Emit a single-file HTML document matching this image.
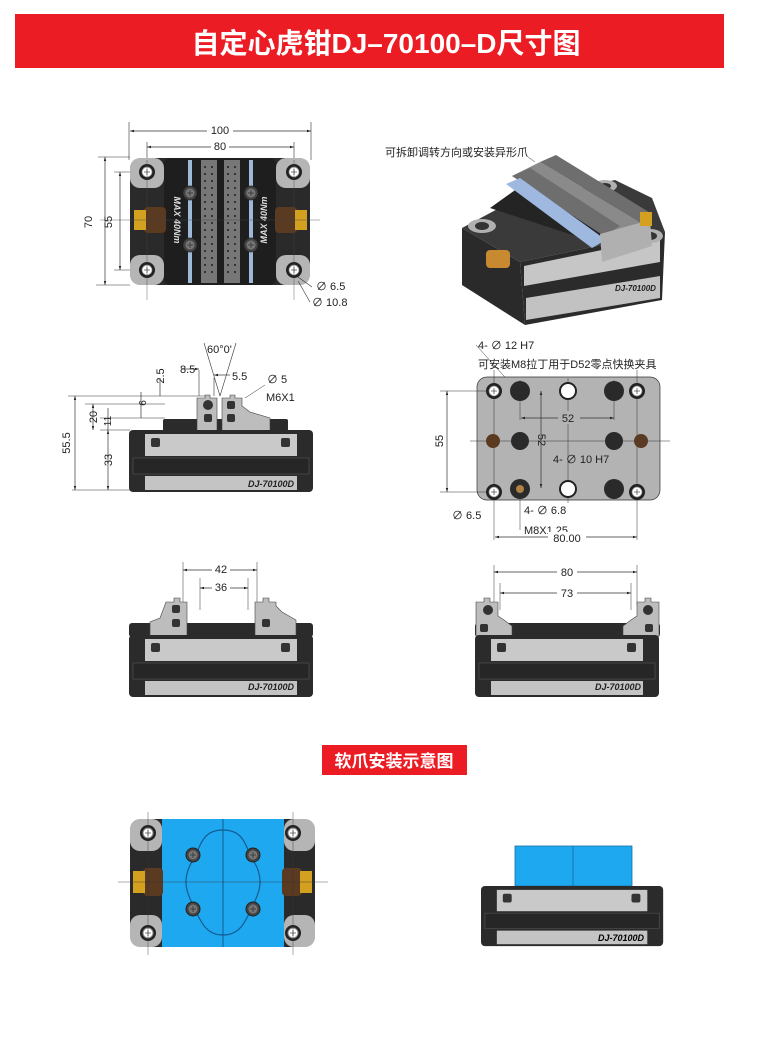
<!DOCTYPE html>
<html><head><meta charset="utf-8"><style>
html,body{margin:0;padding:0;background:#fff;}
svg{display:block}
text{font-family:"Liberation Sans","Noto Sans CJK SC",sans-serif;}
</style></head><body>
<svg width="758" height="1058" viewBox="0 0 758 1058" xmlns="http://www.w3.org/2000/svg">
<defs>
<marker id="a" viewBox="0 0 10 10" refX="10" refY="5" markerWidth="6" markerHeight="6" orient="auto-start-reverse"><path d="M0,2 L10,5 L0,8z" fill="#222"/></marker>
<g id="base">
<rect x="0" y="0" width="184" height="62" rx="4" fill="#2b2b2b"/>
<rect x="16" y="4" width="152" height="22" fill="#c9c9c9"/>
<rect x="4" y="28" width="176" height="16" fill="#262626" stroke="#555" stroke-width="0.6"/>
<rect x="16" y="46" width="152" height="14" fill="#c4c4c4"/>
<rect x="22" y="8" width="9" height="9" rx="2" fill="#333"/>
<rect x="152" y="8" width="9" height="9" rx="2" fill="#333"/>
</g>
<g id="hole"><circle r="8" fill="#222"/><circle r="5" fill="#fff" stroke="#888"/><path d="M-3,0h6M0,-3v6" stroke="#555" stroke-width="0.8"/></g>
<g id="bolt"><circle r="7" fill="#444" stroke="#222"/><circle r="4.5" fill="#777"/><path d="M-3,0h6M0,-3v6" stroke="#333" stroke-width="0.8"/></g>
</defs>

<!-- banner -->
<rect x="15" y="14" width="709" height="54" fill="#ec1c24"/>
<text x="386" y="53" font-size="28" font-weight="bold" fill="#fff" text-anchor="middle" font-family="Liberation Sans,Noto Sans CJK SC,sans-serif">自定心虎钳DJ–70100–D尺寸图</text>

<g font-size="11" fill="#222" stroke-width="0.7">
<!-- TOP VIEW -->
<g stroke="#333" fill="none" stroke-width="0.6">
<path d="M129,122V160M311,122V160M147,142V165M294,142V165"/>
<path d="M98,157H130M96,285H130M114,172H150M114,270H150"/>
</g>
<line x1="130" y1="131" x2="311" y2="131" stroke="#333" stroke-width="0.7" marker-start="url(#a)" marker-end="url(#a)"/>
<line x1="147" y1="147" x2="294" y2="147" stroke="#333" stroke-width="0.7" marker-start="url(#a)" marker-end="url(#a)"/>
<line x1="105" y1="157" x2="105" y2="285" stroke="#333" stroke-width="0.7" marker-start="url(#a)" marker-end="url(#a)"/>
<line x1="120" y1="172" x2="120" y2="270" stroke="#333" stroke-width="0.7" marker-start="url(#a)" marker-end="url(#a)"/>
<rect x="207" y="124" width="26" height="12" fill="#fff"/><text x="220" y="134" text-anchor="middle">100</text>
<rect x="211" y="140" width="18" height="12" fill="#fff"/><text x="220" y="150" text-anchor="middle">80</text>
<text x="92" y="222" text-anchor="middle" transform="rotate(-90 92 222)">70</text>
<text x="112" y="222" text-anchor="middle" transform="rotate(-90 112 222)">55</text>

<rect x="130" y="158" width="180" height="127" rx="12" fill="#2a2a2a"/>
<rect x="130" y="158" width="34" height="30" rx="10" fill="#b5b5b5"/>
<rect x="276" y="158" width="34" height="30" rx="10" fill="#b5b5b5"/>
<rect x="130" y="255" width="34" height="30" rx="10" fill="#b5b5b5"/>
<rect x="276" y="255" width="34" height="30" rx="10" fill="#b5b5b5"/>
<rect x="164" y="158" width="112" height="127" rx="6" fill="#1e1e1e"/>
<rect x="188" y="160" width="4" height="123" fill="#9fb8d8"/><rect x="249" y="160" width="4" height="123" fill="#9fb8d8"/>
<rect x="201" y="160" width="16" height="123" fill="#777"/><rect x="224" y="160" width="16" height="123" fill="#777"/>
<path d="M205,166v112M212,166v112M228,166v112M235,166v112" stroke="#333" stroke-width="2" stroke-dasharray="2 5"/>
<use href="#bolt" x="190" y="193"/><use href="#bolt" x="251" y="193"/><use href="#bolt" x="190" y="245"/><use href="#bolt" x="251" y="245"/>
<text x="174" y="220" font-size="9" font-weight="bold" font-style="italic" fill="#ddd" transform="rotate(90 174 220)" text-anchor="middle">MAX 40Nm</text>
<text x="267" y="220" font-size="9" font-weight="bold" font-style="italic" fill="#ddd" transform="rotate(-90 267 220)" text-anchor="middle">MAX 40Nm</text>
<rect x="144" y="207" width="22" height="26" rx="4" fill="#5a3a20"/><rect x="134" y="210" width="12" height="20" fill="#d4a020"/>
<rect x="275" y="207" width="22" height="26" rx="4" fill="#5a3a20"/><rect x="295" y="210" width="12" height="20" fill="#d4a020"/>
<use href="#hole" x="147" y="172"/><use href="#hole" x="294" y="172"/><use href="#hole" x="147" y="270"/><use href="#hole" x="294" y="270"/>
<path d="M100,220H320M147,160V300M294,160V300" stroke="#444" stroke-width="0.4" fill="none"/>
<path d="M298,277L312,287M298,281L310,302" stroke="#333" stroke-width="0.6" fill="none"/>
<text x="316" y="290">∅  6.5</text><text x="312" y="306">∅  10.8</text>

<!-- ISO VIEW -->
<text x="385" y="156">可拆卸调转方向或安装异形爪</text>
<line x1="528" y1="157" x2="535" y2="162" stroke="#333" stroke-width="0.5"/>
<!-- left face -->
<polygon points="462,228 520,262 525,325 462,285" fill="#2a2a2a"/>
<!-- top of base -->
<polygon points="462,228 505,205 615,180 652,198 665,232 520,262" fill="#3a3a3a"/>
<!-- front face -->
<polygon points="520,262 665,232 662,300 525,325" fill="#2b2b2b"/>
<polygon points="524,266 660,238 660,262 524,286" fill="#c6c6c6"/>
<polygon points="526,298 660,276 660,298 526,320" fill="#c2c2c2"/>
<!-- corner pads -->
<ellipse cx="482" cy="226" rx="14" ry="7" fill="#b0b0b0"/><ellipse cx="482" cy="226" rx="7" ry="4" fill="#333"/>
<ellipse cx="650" cy="236" rx="13" ry="7" fill="#b0b0b0"/><ellipse cx="650" cy="236" rx="7" ry="4" fill="#333"/>
<ellipse cx="605" cy="186" rx="12" ry="6" fill="#b0b0b0"/><ellipse cx="605" cy="186" rx="6" ry="3" fill="#333"/>
<!-- slide body -->
<polygon points="490,208 518,188 640,222 612,248" fill="#242424"/>
<!-- jaws -->
<polygon points="512,176 540,162 650,228 622,244" fill="#8a8a8a"/>
<polygon points="512,176 530,168 620,226 604,236" fill="#6e6e6e"/>
<polygon points="540,162 556,155 652,214 650,228" fill="#6e6e6e"/>
<polygon points="506,184 520,178 606,240 592,248" fill="#9fb8e0"/>
<polygon points="600,234 650,220 652,246 602,262" fill="#b0b0b0"/>
<rect x="486" y="250" width="24" height="18" rx="4" fill="#c88a30"/><rect x="640" y="212" width="12" height="14" fill="#d4a020"/>
<text x="615" y="291" font-size="8" font-weight="bold" font-style="italic" fill="#222">DJ-70100D</text>

<!-- SIDE VIEW -->
<g stroke="#333" fill="none" stroke-width="0.6">
<path d="M68,396H205M85,404H165M100,418H165M100,430H130M72,490H130"/>
<path d="M199,370V396M214,378V396M204,343L220,396M236,343L220,396"/>
</g>
<line x1="75" y1="396" x2="75" y2="490" stroke="#333" stroke-width="0.7" marker-start="url(#a)" marker-end="url(#a)"/>
<line x1="93" y1="404" x2="93" y2="430" stroke="#333" stroke-width="0.7" marker-start="url(#a)" marker-end="url(#a)"/>
<line x1="108" y1="430" x2="108" y2="490" stroke="#333" stroke-width="0.7" marker-start="url(#a)" marker-end="url(#a)"/>
<line x1="108" y1="408" x2="108" y2="430" stroke="#333" stroke-width="0.7"/>
<line x1="141" y1="392" x2="141" y2="418" stroke="#333" stroke-width="0.7"/>
<line x1="160" y1="378" x2="160" y2="396" stroke="#333" stroke-width="0.7"/>
<line x1="182" y1="369" x2="199" y2="369" stroke="#333" stroke-width="0.7" marker-end="url(#a)"/>
<line x1="230" y1="375" x2="214" y2="375" stroke="#333" stroke-width="0.7" marker-end="url(#a)"/>
<text x="70" y="443" text-anchor="middle" transform="rotate(-90 70 443)">55.5</text>
<text x="97" y="417" text-anchor="middle" transform="rotate(-90 97 417)">20</text>
<text x="111" y="421" text-anchor="middle" font-size="10" transform="rotate(-90 111 421)">11</text>
<text x="112" y="460" text-anchor="middle" transform="rotate(-90 112 460)">33</text>
<text x="146" y="403" text-anchor="middle" font-size="10" transform="rotate(-90 146 403)">6</text>
<text x="164" y="376" text-anchor="middle" transform="rotate(-90 164 376)">2.5</text>
<text x="180" y="373">8.5</text><text x="232" y="380">5.5</text>
<text x="207" y="353">60°0'</text>
<text x="267" y="383">∅  5</text><text x="266" y="401">M6X1</text>
<path d="M265,385L245,398" stroke="#333" stroke-width="0.5"/>
<rect x="163" y="419" width="125" height="12" rx="2" fill="#2b2b2b"/>
<path d="M197,398h8v-3h5v3h7v35h-20z" fill="#bdbdbd" stroke="#444" stroke-width="0.6"/>
<path d="M222,398h8v-3h5v3h7v8l8,6l20,6v15h-48z" fill="#bdbdbd" stroke="#444" stroke-width="0.6"/>
<circle cx="208" cy="405" r="5" fill="#333"/><rect x="204" y="414" width="8" height="8" rx="2" fill="#333"/>
<rect x="227" y="401" width="8" height="8" rx="2" fill="#333"/><rect x="227" y="414" width="8" height="8" rx="2" fill="#333"/>
<use href="#base" x="129" y="430"/>
<text x="294" y="487" font-size="9" font-weight="bold" font-style="italic" text-anchor="end" fill="#222">DJ-70100D</text>

<!-- BOTTOM VIEW -->
<text x="478" y="349">4-  ∅  12  H7</text>
<text x="478" y="368">可安装M8拉丁用于D52零点快换夹具</text>
<path d="M476,345L512,385" stroke="#333" stroke-width="0.5"/>
<rect x="477" y="377" width="183" height="123" rx="10" fill="#b3b3b3" stroke="#333"/>
<g stroke="#333" stroke-width="0.5" fill="none">
<path d="M440,391H495M440,492H495M470,441H670M494,370V540M637,370V540M520,380V420M614,380V420M520,480V530M568,378V503"/>
</g>
<line x1="447" y1="391" x2="447" y2="492" stroke="#333" stroke-width="0.7" marker-start="url(#a)" marker-end="url(#a)"/>
<line x1="541" y1="391" x2="541" y2="488" stroke="#333" stroke-width="0.7" marker-start="url(#a)" marker-end="url(#a)"/>
<line x1="521" y1="418" x2="614" y2="418" stroke="#333" stroke-width="0.7" marker-start="url(#a)" marker-end="url(#a)"/>
<line x1="495" y1="537" x2="637" y2="537" stroke="#333" stroke-width="0.7" marker-start="url(#a)" marker-end="url(#a)"/>
<text x="443" y="441" text-anchor="middle" transform="rotate(-90 443 441)">55</text>
<rect x="558" y="411" width="22" height="13" fill="#b3b3b3"/><text x="568" y="422" text-anchor="middle">52</text>
<text x="538" y="440" text-anchor="middle" transform="rotate(90 538 440)">52</text>
<text x="553" y="463">4-  ∅  10  H7</text>
<use href="#hole" x="494" y="391"/><use href="#hole" x="637" y="391"/><use href="#hole" x="494" y="492"/><use href="#hole" x="637" y="492"/>
<circle cx="520" cy="391" r="10" fill="#2a2a2a"/><circle cx="614" cy="391" r="10" fill="#2a2a2a"/><circle cx="614" cy="489" r="10" fill="#2a2a2a"/><circle cx="520" cy="489" r="10" fill="#2a2a2a"/>
<circle cx="520" cy="489" r="4" fill="#b08040"/>
<circle cx="520" cy="441" r="9" fill="#2a2a2a"/><circle cx="614" cy="441" r="9" fill="#2a2a2a"/>
<circle cx="568" cy="391" r="8" fill="#fff" stroke="#222" stroke-width="2"/><circle cx="568" cy="489" r="8" fill="#fff" stroke="#222" stroke-width="2"/>
<circle cx="493" cy="441" r="7" fill="#5a3a20"/><circle cx="641" cy="441" r="7" fill="#5a3a20"/>
<text x="452" y="519">∅  6.5</text><text x="524" y="514">4-  ∅  6.8</text>
<text x="524" y="534">M8X1.25</text>
<rect x="548" y="532" width="38" height="12" fill="#fff"/><text x="567" y="542" text-anchor="middle">80.00</text>

<!-- ROW 3 LEFT -->
<g stroke="#333" stroke-width="0.5" fill="none"><path d="M183,562V605M257,562V605M200,578V610M248,578V610"/></g>
<line x1="183" y1="570" x2="257" y2="570" stroke="#333" stroke-width="0.7" marker-start="url(#a)" marker-end="url(#a)"/>
<line x1="200" y1="588" x2="248" y2="588" stroke="#333" stroke-width="0.7" marker-start="url(#a)" marker-end="url(#a)"/>
<rect x="212" y="563" width="18" height="12" fill="#fff"/><text x="221" y="573" text-anchor="middle">42</text>
<rect x="212" y="581" width="18" height="12" fill="#fff"/><text x="221" y="591" text-anchor="middle">36</text>
<rect x="129" y="623" width="184" height="14" rx="3" fill="#2b2b2b"/>
<path d="M166,602h8v-4h6v4h7v34h-37v-14l10,-4z" fill="#bdbdbd" stroke="#444" stroke-width="0.6"/>
<path d="M255,602h8v-4h6v4h7v4l6,6l14,8v16h-41z" fill="#bdbdbd" stroke="#444" stroke-width="0.6"/>
<rect x="172" y="605" width="8" height="8" rx="2" fill="#333"/><rect x="172" y="619" width="8" height="8" rx="2" fill="#333"/><rect x="262" y="619" width="8" height="8" rx="2" fill="#333"/>
<use href="#base" x="129" y="635"/>
<text x="294" y="690" font-size="9" font-weight="bold" font-style="italic" text-anchor="end">DJ-70100D</text>

<!-- ROW 3 RIGHT -->
<g stroke="#333" stroke-width="0.5" fill="none"><path d="M494,565V605M637,565V605M500,583V610M631,583V610"/></g>
<line x1="494" y1="572" x2="637" y2="572" stroke="#333" stroke-width="0.7" marker-start="url(#a)" marker-end="url(#a)"/>
<line x1="500" y1="593" x2="631" y2="593" stroke="#333" stroke-width="0.7" marker-start="url(#a)" marker-end="url(#a)"/>
<rect x="557" y="565" width="20" height="12" fill="#fff"/><text x="567" y="576" text-anchor="middle">80</text>
<rect x="557" y="587" width="20" height="12" fill="#fff"/><text x="567" y="597" text-anchor="middle">73</text>
<rect x="475" y="623" width="185" height="14" rx="3" fill="#2b2b2b"/>
<path d="M476,602h8v-4h6v4h8v14l6,4l8,6v10h-36z" fill="#bdbdbd" stroke="#444" stroke-width="0.6"/>
<path d="M659,602h-8v-4h-6v4h-8v14l-6,4l-8,6v10h36z" fill="#bdbdbd" stroke="#444" stroke-width="0.6"/>
<circle cx="488" cy="610" r="5" fill="#333"/><circle cx="648" cy="610" r="5" fill="#333"/>
<rect x="480" y="624" width="8" height="8" rx="2" fill="#333"/><rect x="645" y="624" width="8" height="8" rx="2" fill="#333"/>
<use href="#base" x="475" y="635"/>
<text x="641" y="690" font-size="9" font-weight="bold" font-style="italic" text-anchor="end">DJ-70100D</text>
</g>

<!-- red button -->
<rect x="322" y="745" width="145" height="30" fill="#ec1c24"/>
<text x="394" y="767" font-size="17" font-weight="bold" fill="#fff" text-anchor="middle">软爪安装示意图</text>

<!-- BOTTOM LEFT -->
<rect x="130" y="819" width="185" height="128" rx="12" fill="#2a2a2a"/>
<rect x="130" y="819" width="32" height="32" rx="10" fill="#b5b5b5"/><rect x="284" y="819" width="31" height="32" rx="10" fill="#b5b5b5"/>
<rect x="130" y="915" width="32" height="32" rx="10" fill="#b5b5b5"/><rect x="284" y="915" width="31" height="32" rx="10" fill="#b5b5b5"/>
<rect x="162" y="819" width="122" height="128" fill="#1ea8ef"/>
<line x1="223" y1="819" x2="223" y2="947" stroke="#155a90"/>
<path d="M223,830C200,830 200,850 193,860C180,880 188,895 193,905C200,920 205,935 223,935C241,935 246,920 253,905C258,895 266,880 253,860C246,850 246,830 223,830z" fill="none" stroke="#155a90" stroke-width="1.2"/>
<use href="#bolt" x="193" y="855"/><use href="#bolt" x="253" y="855"/><use href="#bolt" x="193" y="909"/><use href="#bolt" x="253" y="909"/>
<rect x="143" y="868" width="20" height="28" rx="4" fill="#5a3a20"/><rect x="133" y="871" width="12" height="22" fill="#d4a020"/>
<rect x="282" y="868" width="20" height="28" rx="4" fill="#5a3a20"/><rect x="300" y="871" width="12" height="22" fill="#d4a020"/>
<use href="#hole" x="148" y="833"/><use href="#hole" x="293" y="833"/><use href="#hole" x="148" y="933"/><use href="#hole" x="293" y="933"/>
<path d="M118,882H328M148,812V955M293,812V955" stroke="#333" stroke-width="0.4" fill="none"/>

<!-- BOTTOM RIGHT -->
<rect x="515" y="846" width="58" height="40" fill="#1ea8ef" stroke="#1570a8" stroke-width="0.8"/>
<rect x="573" y="846" width="59" height="40" fill="#1ea8ef" stroke="#1570a8" stroke-width="0.8"/>
<use href="#base" x="481" y="886" transform="translate(481 886) scale(0.99 0.97) translate(-481 -886)"/>
<text x="644" y="941" font-size="9" font-weight="bold" font-style="italic" text-anchor="end">DJ-70100D</text>
</svg>
</body></html>
